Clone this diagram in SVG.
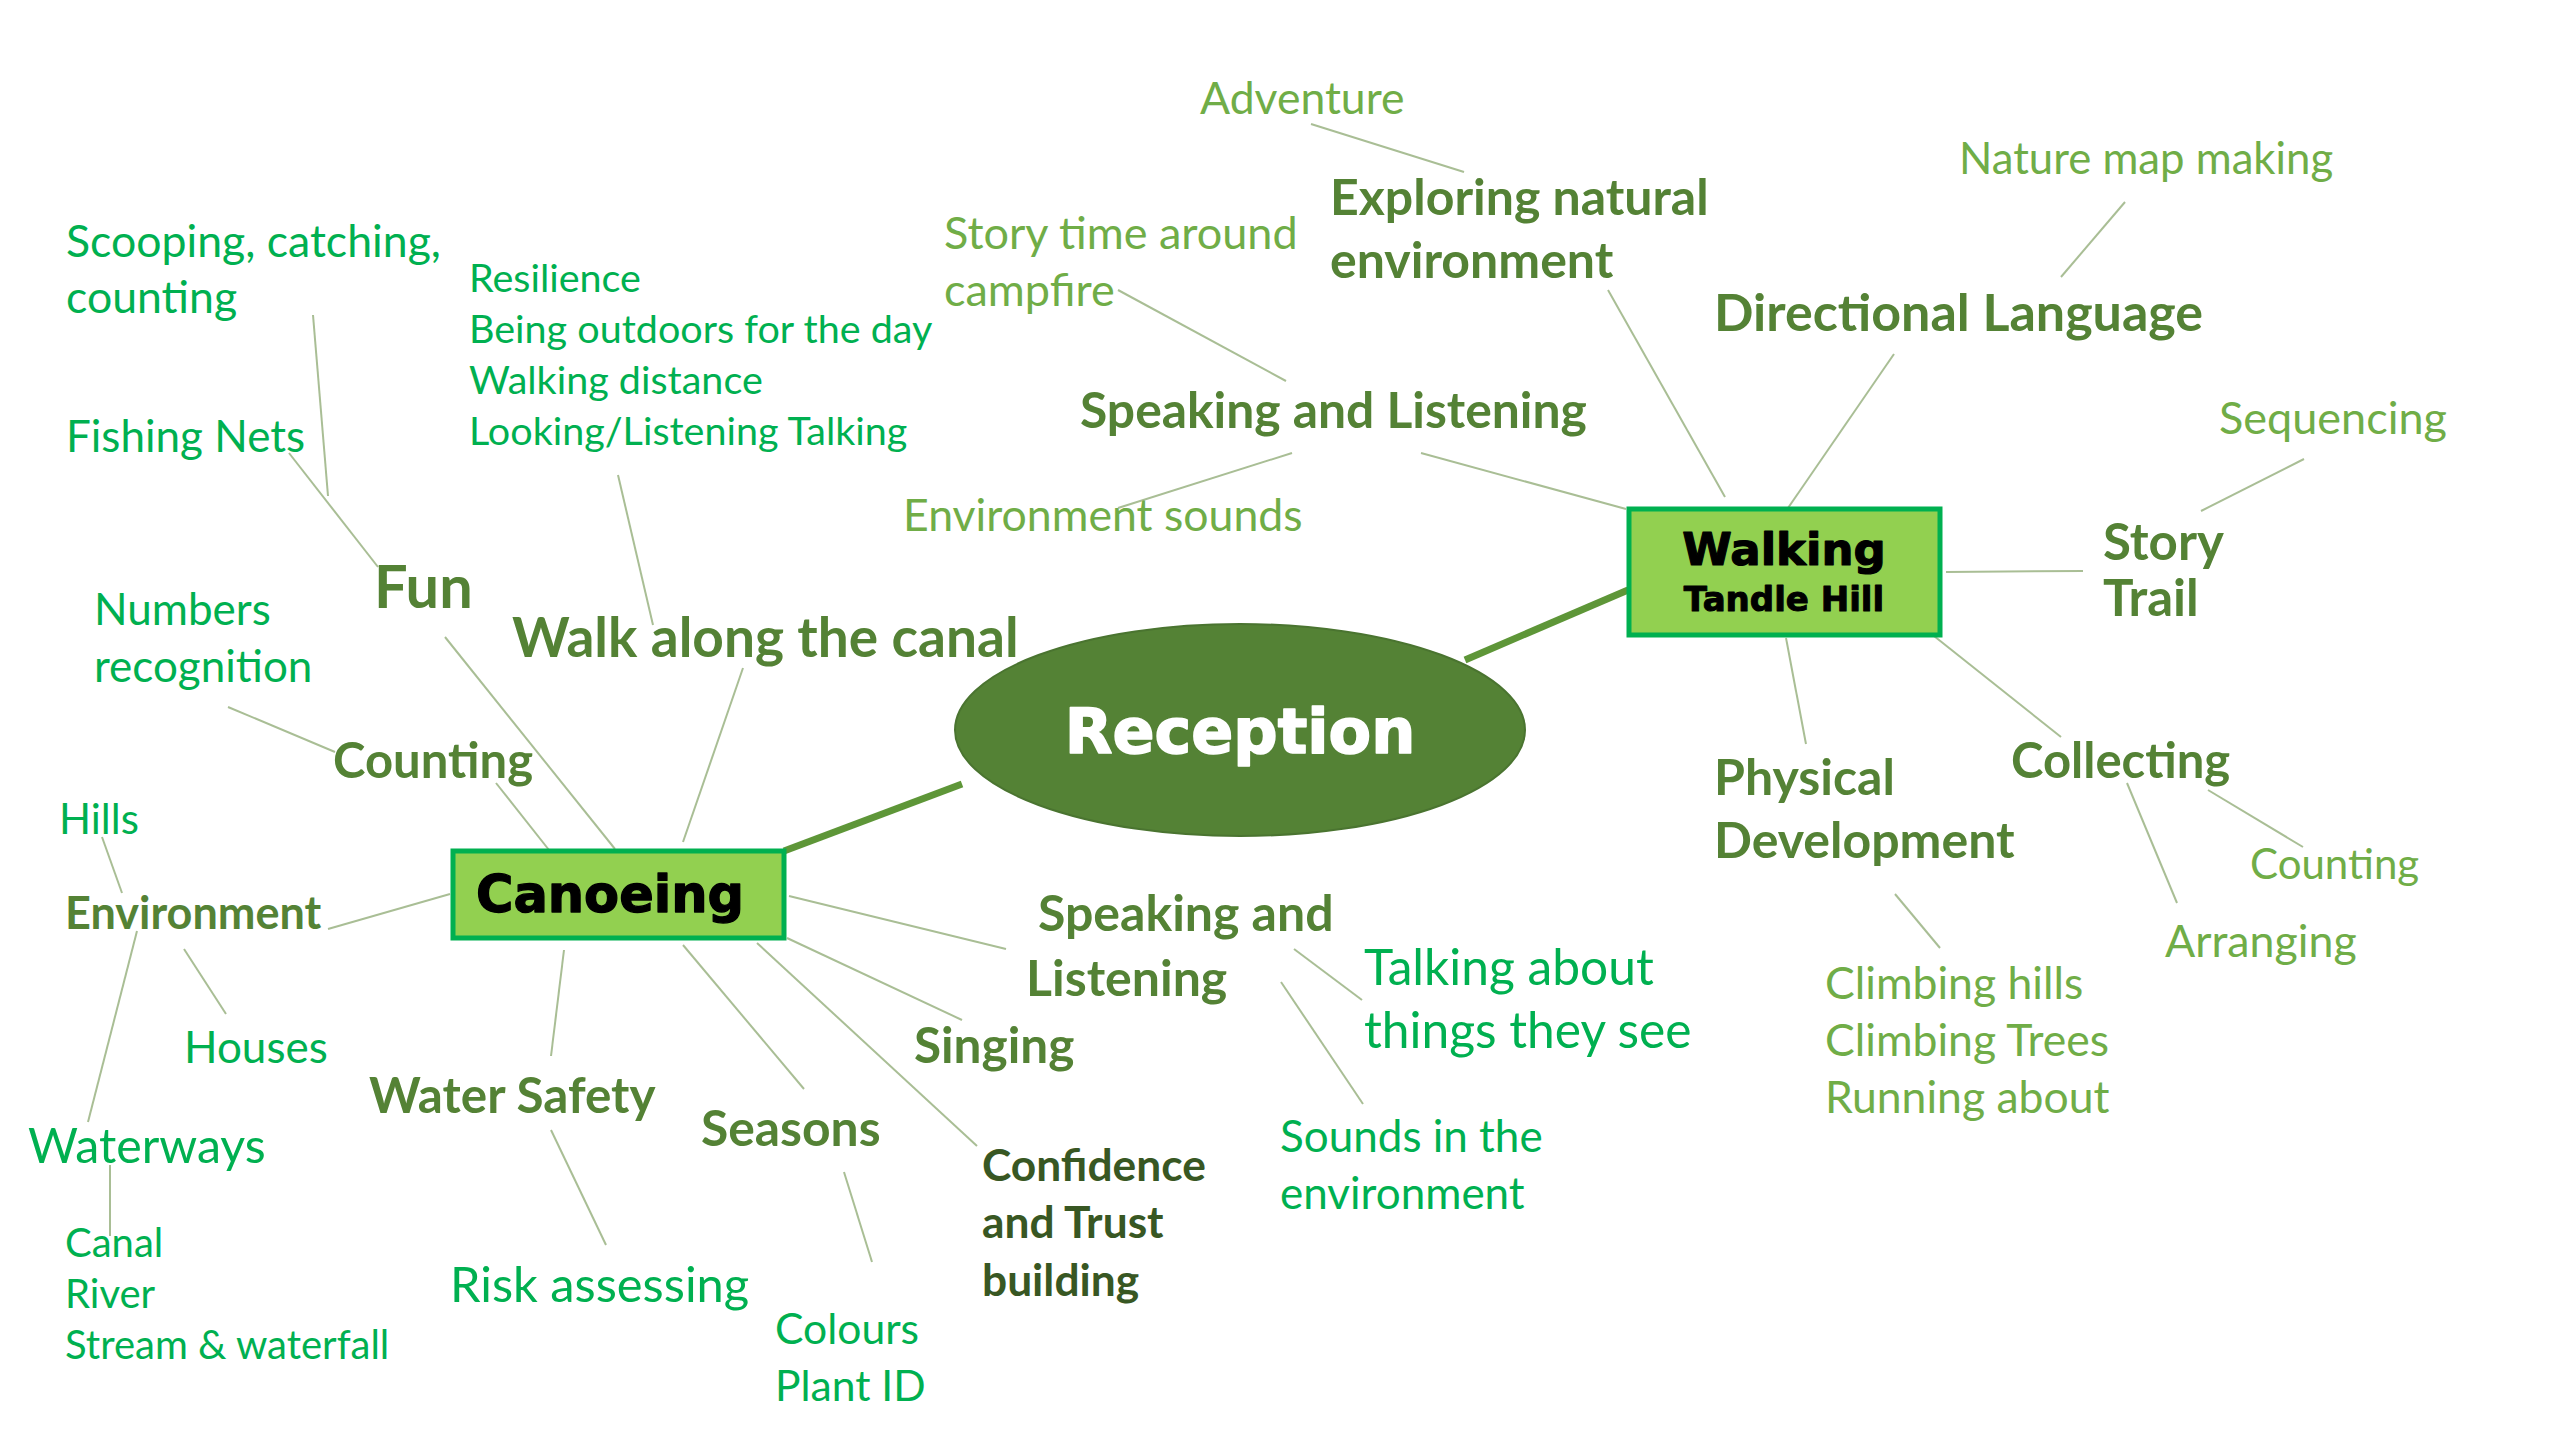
<svg xmlns="http://www.w3.org/2000/svg" width="2560" height="1440" viewBox="0 0 2560 1440">
<style>
text{font-family:Lato,"Open Sans","Liberation Sans",sans-serif}
.g{fill:#00B050}
.o{fill:#70AD47}
.h{fill:#548235;font-weight:bold}
.d{fill:#385723;font-weight:bold}
.r{fill:#00B050}
.c line{stroke:#A9BE95;stroke-width:2}
.c line.t{stroke:#5E9638;stroke-width:7}
.hub{font-family:"DejaVu Sans","Liberation Sans",sans-serif;font-weight:bold;stroke-linejoin:round}
</style>
<rect width="2560" height="1440" fill="#FFFFFF"/>
<g id="connectors" class="c">
<line class="t" x1="1465" y1="660" x2="1628" y2="590"/>
<line class="t" x1="962" y1="784" x2="784" y2="851"/>
<line x1="313" y1="315" x2="328" y2="496"/>
<line x1="289" y1="453" x2="378" y2="567"/>
<line x1="618" y1="475" x2="653" y2="625"/>
<line x1="445" y1="637" x2="615" y2="849"/>
<line x1="743" y1="668" x2="683" y2="842"/>
<line x1="228" y1="707" x2="335" y2="752"/>
<line x1="496" y1="783" x2="549" y2="850"/>
<line x1="102" y1="837" x2="122" y2="893"/>
<line x1="328" y1="929" x2="450" y2="894"/>
<line x1="184" y1="949" x2="226" y2="1014"/>
<line x1="137" y1="931" x2="88" y2="1122"/>
<line x1="110" y1="1165" x2="110" y2="1236"/>
<line x1="564" y1="950" x2="551" y2="1056"/>
<line x1="551" y1="1130" x2="606" y2="1245"/>
<line x1="683" y1="945" x2="804" y2="1089"/>
<line x1="844" y1="1172" x2="872" y2="1262"/>
<line x1="757" y1="943" x2="977" y2="1146"/>
<line x1="787" y1="938" x2="962" y2="1020"/>
<line x1="789" y1="896" x2="1006" y2="949"/>
<line x1="1294" y1="949" x2="1362" y2="1000"/>
<line x1="1281" y1="982" x2="1363" y2="1104"/>
<line x1="1311" y1="124" x2="1464" y2="172"/>
<line x1="1608" y1="290" x2="1725" y2="497"/>
<line x1="1118" y1="290" x2="1286" y2="381"/>
<line x1="1292" y1="453" x2="1118" y2="508"/>
<line x1="1421" y1="453" x2="1626" y2="509"/>
<line x1="2125" y1="202" x2="2061" y2="277"/>
<line x1="1894" y1="354" x2="1788" y2="508"/>
<line x1="2304" y1="459" x2="2201" y2="511"/>
<line x1="1946" y1="572" x2="2083" y2="571"/>
<line x1="1895" y1="605" x2="2061" y2="737"/>
<line x1="1786" y1="638" x2="1806" y2="744"/>
<line x1="1895" y1="894" x2="1940" y2="948"/>
<line x1="2208" y1="790" x2="2303" y2="847"/>
<line x1="2127" y1="783" x2="2177" y2="903"/>
</g>
<g id="reception">
<ellipse cx="1240" cy="730" rx="285" ry="106" fill="#548235" stroke="#4A7430" stroke-width="2"/>
<text class="hub" x="1240" y="753" text-anchor="middle" style="font-size:62px" fill="#FFFFFF" stroke="#FFFFFF" stroke-width="1.6">Reception</text>
</g>
<g id="walking">
<rect x="1629" y="509" width="311" height="126" fill="#92D050" stroke="#00B050" stroke-width="5"/>
<text class="hub" x="1784" y="565" text-anchor="middle" style="font-size:45px" fill="#000000" stroke="#000000" stroke-width="1.2">Walking</text>
<text class="hub" x="1784" y="611" text-anchor="middle" style="font-size:34px" fill="#000000" stroke="#000000" stroke-width="1">Tandle Hill</text>
</g>
<g id="canoeing">
<rect x="453" y="851" width="331" height="87" fill="#92D050" stroke="#00B050" stroke-width="5"/>
<text class="hub" x="610" y="912" text-anchor="middle" style="font-size:51px" fill="#000000" stroke="#000000" stroke-width="1.3">Canoeing</text>
</g>
<g id="scooping"><text class="g" x="66" y="257" style="font-size:44.6px">Scooping, catching,<tspan x="66" dy="56">counting</tspan></text></g>
<g id="fishing-nets"><text class="g" x="66" y="452" style="font-size:44px">Fishing Nets</text></g>
<g id="resilience"><text class="r" x="469" y="292" style="font-size:39.5px">Resilience<tspan x="469" dy="51">Being outdoors for the day</tspan><tspan x="469" dy="51">Walking distance</tspan><tspan x="469" dy="51">Looking/Listening Talking</tspan></text></g>
<g id="numbers"><text class="g" x="94" y="625" style="font-size:44px">Numbers<tspan x="94" dy="57">recognition</tspan></text></g>
<g id="fun"><text class="h" x="374" y="608" style="font-size:59.5px">Fun</text></g>
<g id="walk-canal"><text class="h" x="512" y="657" style="font-size:55px">Walk along the canal</text></g>
<g id="adventure"><text class="o" x="1200" y="114" style="font-size:44.5px">Adventure</text></g>
<g id="exploring"><text class="h" x="1330" y="215" style="font-size:50px">Exploring natural<tspan x="1330" dy="63">environment</tspan></text></g>
<g id="story-time"><text class="o" x="944" y="249" style="font-size:45px">Story time around<tspan x="944" dy="57">campfire</tspan></text></g>
<g id="speaking-top"><text class="h" x="1080" y="428" style="font-size:49.8px">Speaking and Listening</text></g>
<g id="env-sounds"><text class="o" x="903" y="531" style="font-size:44.6px">Environment sounds</text></g>
<g id="nature-map"><text class="o" x="1959" y="174" style="font-size:43.7px">Nature map making</text></g>
<g id="directional"><text class="h" x="1714" y="331" style="font-size:52px">Directional Language</text></g>
<g id="sequencing"><text class="o" x="2219" y="434" style="font-size:45px">Sequencing</text></g>
<g id="story-trail"><text class="h" x="2103" y="560" style="font-size:51px">Story<tspan x="2103" dy="56">Trail</tspan></text></g>
<g id="counting-left"><text class="h" x="333" y="778" style="font-size:49px">Counting</text></g>
<g id="hills"><text class="g" x="59" y="834" style="font-size:42px">Hills</text></g>
<g id="environment"><text class="h" x="65" y="929" style="font-size:45px">Environment</text></g>
<g id="houses"><text class="g" x="184" y="1063" style="font-size:44px">Houses</text></g>
<g id="waterways"><text class="g" x="28" y="1163" style="font-size:48.3px">Waterways</text></g>
<g id="canal"><text class="g" x="65" y="1257" style="font-size:40px">Canal<tspan x="65" dy="51">River</tspan><tspan x="65" dy="51">Stream &amp; waterfall</tspan></text></g>
<g id="water-safety"><text class="h" x="369" y="1113" style="font-size:49.4px">Water Safety</text></g>
<g id="risk"><text class="g" x="450" y="1302" style="font-size:48.8px">Risk assessing</text></g>
<g id="seasons"><text class="h" x="701" y="1146" style="font-size:49.8px">Seasons</text></g>
<g id="colours"><text class="g" x="775" y="1344" style="font-size:42.6px">Colours<tspan x="775" dy="57">Plant ID</tspan></text></g>
<g id="speaking-lower"><text class="h" x="1038" y="931" style="font-size:50px">Speaking and<tspan x="1026" dy="65">Listening</tspan></text></g>
<g id="singing"><text class="h" x="914" y="1063" style="font-size:49.5px">Singing</text></g>
<g id="confidence"><text class="d" x="982" y="1181" style="font-size:44.3px">Confidence<tspan x="982" dy="57">and Trust</tspan><tspan x="982" dy="58">building</tspan></text></g>
<g id="talking"><text class="g" x="1364" y="985" style="font-size:49.7px">Talking about<tspan x="1364" dy="63">things they see</tspan></text></g>
<g id="sounds"><text class="g" x="1280" y="1152" style="font-size:44px">Sounds in the<tspan x="1280" dy="57">environment</tspan></text></g>
<g id="physical"><text class="h" x="1714" y="795" style="font-size:50px">Physical<tspan x="1714" dy="63">Development</tspan></text></g>
<g id="collecting"><text class="h" x="2011" y="778" style="font-size:49px">Collecting</text></g>
<g id="counting-right"><text class="o" x="2250" y="879" style="font-size:42px">Counting</text></g>
<g id="arranging"><text class="o" x="2165" y="957" style="font-size:44.7px">Arranging</text></g>
<g id="climbing"><text class="o" x="1825" y="999" style="font-size:44.5px">Climbing hills<tspan x="1825" dy="57">Climbing Trees</tspan><tspan x="1825" dy="57">Running about</tspan></text></g>
</svg>
